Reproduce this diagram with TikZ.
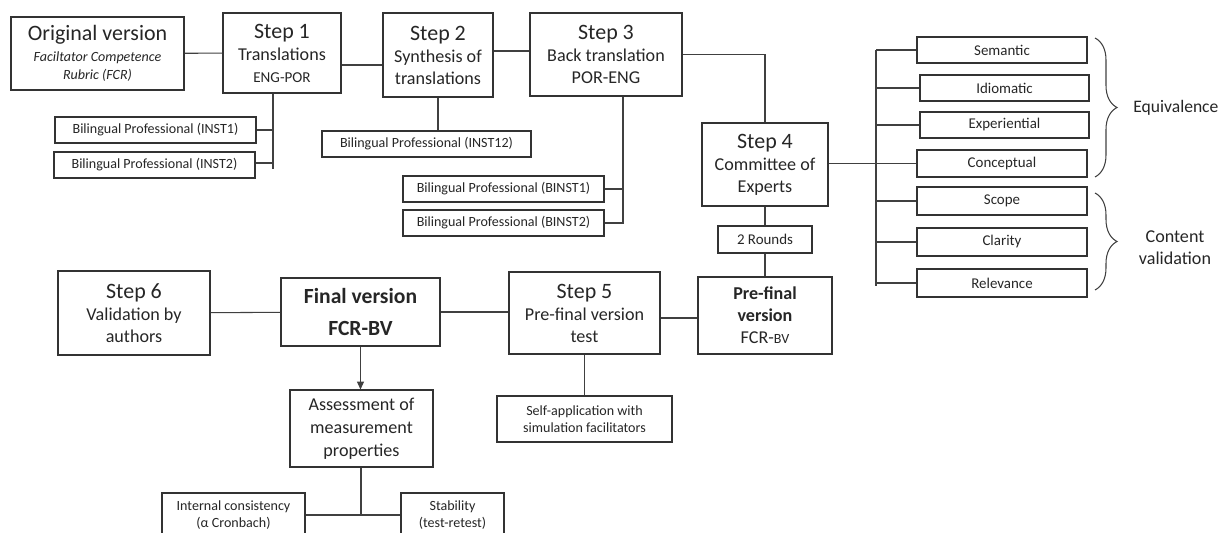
\documentclass[tikz,border=0pt]{standalone}
\usepackage{fontspec}
\setmainfont{Carlito}
\usetikzlibrary{positioning,arrows.meta,decorations.pathreplacing}

\newcommand{\steptitle}[1]{{\fontsize{12.5}{15}\selectfont #1}}

\begin{document}
\begin{tikzpicture}[x=0.02cm, y=-0.02cm,
			box/.style={draw=black!80, line width=0.6pt, align=center, inner sep=1pt, text=black!85},
			sz/.style 2 args={minimum width=#1*0.02cm, minimum height=#2*0.02cm},
			stepbox/.style={box, font=\fontsize{10.3}{12.5}\selectfont},
			smallbox/.style={box, font=\fontsize{8}{9.6}\selectfont},
			itembox/.style={box, font=\fontsize{8.5}{10}\selectfont, sz={170}{26}},
			link/.style={draw=black!75, line width=0.6pt},
			arrow/.style={link, -{Triangle[length=4.5pt,width=4pt]}},
			brace/.style={link, decorate, decoration={brace, amplitude=0.44cm}},
			label/.style={text=black!85, align=center, inner sep=0pt, font=\fontsize{10.3}{12.5}\selectfont}]
			
			\clip (0,0) rectangle (1225,533);
			
			% first row
			\node[box, sz={173}{73}, font=\fontsize{8}{10}\selectfont\itshape] (orig) at (97.5,53.5)
				{\steptitle{\upshape Original version}\\[2pt] Faciltator Competence\\ Rubric (FCR)};
			\node[stepbox, sz={118}{80}] (step1) at (282,53) {\steptitle{Step 1}\\ Translations\\ {\fontsize{8.6}{10}\selectfont ENG-POR}};
			\node[stepbox, sz={110}{84}] (step2) at (438,55) {\steptitle{Step 2}\\ Synthesis of\\ translations};
			\node[stepbox, sz={152}{83}] (step3) at (606,54.5) {\steptitle{Step 3}\\ Back translation\\ POR-ENG};
			
			% translators
			\node[smallbox, sz={201}{26}] (inst1) at (155.5,130) {Bilingual Professional (INST1)};
			\node[smallbox, sz={201}{26}] (inst2) at (154.5,165) {Bilingual Professional (INST2)};
			\node[smallbox, sz={209}{26}] (inst12) at (426.5,144) {Bilingual Professional (INST12)};
			\node[smallbox, sz={201}{26}] (binst1) at (503.5,189) {Bilingual Professional (BINST1)};
			\node[smallbox, sz={201}{26}] (binst2) at (503.5,223) {Bilingual Professional (BINST2)};
			
			% committee
			\node[stepbox, sz={126}{83}] (step4) at (765,164.5) {\steptitle{Step 4}\\ Committee of\\ Experts};
			\node[smallbox, font=\fontsize{8.5}{10}\selectfont, sz={94}{27}] (rounds) at (765,239.5) {2 Rounds};
			\node[stepbox, sz={134}{77}] (prefinal) at (765,315.5) {\textbf{Pre-final}\\ \textbf{version}\\ FCR-{\fontsize{8}{10}\selectfont BV}};
			
			\node[itembox] (semantic) at (1002,50) {Semantic};
			\node[itembox, sz={169}{26}] (idiomatic) at (1004.5,88) {Idiomatic};
			\node[itembox, sz={169}{26}] (experiential) at (1004.5,125) {Experiential};
			\node[itembox, sz={170}{27}] (conceptual) at (1002,163.5) {Conceptual};
			\node[itembox, sz={170}{28}] (scope) at (1002,201) {Scope};
			\node[itembox, sz={170}{28}] (clarity) at (1002,242) {Clarity};
			\node[itembox, sz={170}{28}] (relevance) at (1002,283) {Relevance};
			
			\node[label, anchor=west, font=\fontsize{10}{12}\selectfont] (equiv) at (1133,108) {Equivalence};
			\node[label] (contval) at (1175,247.5) {Content\\ validation};
			
			% second row
			\node[stepbox, sz={152}{84}] (step6) at (134,313) {\steptitle{Step 6}\\ Validation by\\ authors};
			\node[stepbox, sz={159}{68}, font=\fontsize{12.3}{18}\selectfont\bfseries] (final) at (360.5,312) {Final version\\ FCR-BV};
			\node[stepbox, sz={151}{82}] (step5) at (584.5,313) {\steptitle{Step 5}\\ Pre-final version\\ test};
			\node[smallbox, sz={175}{46}] (selfapp) at (584.5,419) {Self-application with\\ simulation facilitators};
			\node[stepbox, sz={143}{77}, font=\fontsize{10.3}{13}\selectfont] (assess) at (361.5,428.5) {Assessment of\\ measurement\\ properties};
			\node[smallbox, sz={143}{44}] (internal) at (233.5,515) {Internal consistency\\ (α Cronbach)};
			\node[smallbox, sz={103}{44}] (stability) at (452.5,515) {Stability\\ (test-retest)};
			
			\coordinate (t1) at (273,169);
			\coordinate (t3) at (623,223);
			\coordinate (bartop) at (876,50);
			\coordinate (barbot) at (876,286);
			\coordinate (fork) at (361,515);
			
			\draw[link] (orig) -- (step1);
			\draw[link] (step1.east |- 0,65) -- (step2.west |- 0,65);
			\draw[link] (step2.east |- 0,51) -- (step3.west |- 0,51);
			\draw[link] (t1 |- step1.south) -- (t1);
			\draw[link] (inst1.east) -- (inst1.east -| t1);
			\draw[link] (inst2.east |- 0,163) -- (t1 |- 0,163);
			\draw[link] (step2.south) -- (step2.south |- inst12.north);
			\draw[link] (t3 |- step3.south) -- (t3) -- (binst2.east);
			\draw[link] (binst1.east) -- (binst1.east -| t3);
			\draw[link] (step3.east) -| (step4.north);
			\draw[link] (step4.south) -- (rounds.north);
			\draw[link] (rounds.south) -- (prefinal.north);
			
			\draw[link] (bartop) -- (barbot);
			\draw[link] (step4.east |- conceptual.west) -- (conceptual.west);
			\foreach \item in {semantic, idiomatic, experiential, scope, clarity, relevance}
				\draw[link] (\item.west -| bartop) -- (\item.west);
			\draw[brace] (1095,38) -- (1095,177);
			\draw[brace] (1095,193) -- (1095,290);
			
			\draw[link] (prefinal.west |- 0,318) -- (step5.east |- 0,318);
			\draw[link] (step5.west |- final.east) -- (final.east);
			\draw[link] (final) -- (step6);
			\draw[link] (step5.south) -- (selfapp.north);
			\draw[arrow] (final.south) -- (final.south |- assess.north);
			\draw[link] (assess.south -| fork) -- (fork);
			\draw[link] (internal.east |- fork) -- (stability.west |- fork);
			
		\end{tikzpicture}
\end{document}
